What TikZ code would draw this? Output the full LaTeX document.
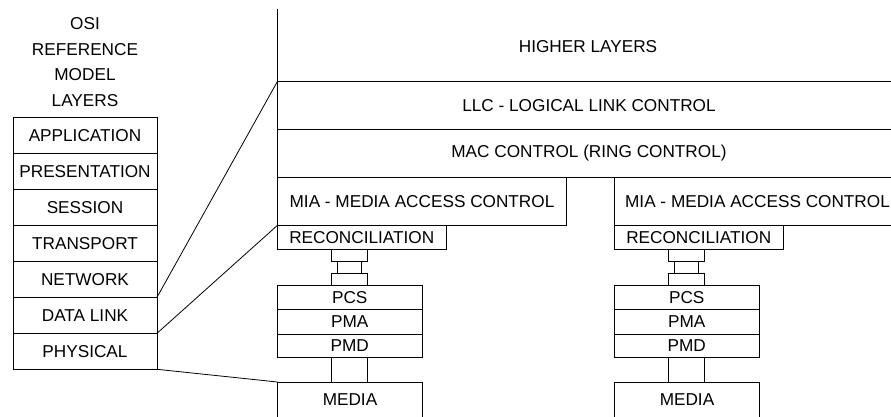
\documentclass[tikz,border=0pt]{standalone}
\usepackage{fontspec}
\setmainfont{Liberation Sans}
\begin{document}
\begin{tikzpicture}[x=1pt,y=-1pt,
  every node/.style={font=\fontsize{17.2}{20}\selectfont},
  lay/.style={draw, line width=0.9pt, inner sep=0pt, outer sep=0pt, anchor=north west},
  link/.style={line width=0.8pt}]
\clip (0,0) rectangle (891,416);
\fill[white] (0,0) rectangle (891,416);
% OSI column
\node[align=center, font=\fontsize{17.2}{25.5}\selectfont] (title) at (85,62) {OSI\\REFERENCE\\MODEL\\LAYERS};
\node[lay, minimum width=144, minimum height=36] (app)  at (13,117.3) {APPLICATION};
\node[lay, minimum width=144, minimum height=36] (pres) at (13,153.3) {PRESENTATION};
\node[lay, minimum width=144, minimum height=36] (sess) at (13,189.3) {SESSION};
\node[lay, minimum width=144, minimum height=36] (trans) at (13,225.3) {TRANSPORT};
\node[lay, minimum width=144, minimum height=36] (net)  at (13,261.3) {NETWORK};
\node[lay, minimum width=144, minimum height=36] (dl)   at (13,297.3) {DATA LINK};
\node[lay, minimum width=144, minimum height=36] (phy)  at (13,333.3) {PHYSICAL};
% upper stack
\coordinate (top) at (277.5,9);
\node (higher) at (588,47) {HIGHER LAYERS};
\node[lay, minimum width=623, minimum height=48] (llc) at (277.5,81.3) {LLC - LOGICAL LINK CONTROL};
\node[lay, minimum width=623, minimum height=48] (mac) at (277.5,129.3) {MAC CONTROL (RING CONTROL)};
\node[lay, minimum width=289, minimum height=48] (miaL) at (277.5,177.3) {MIA - MEDIA ACCESS CONTROL};
\node[lay, minimum width=286, minimum height=48] (miaR) at (614.5,177.3) {MIA - MEDIA ACCESS CONTROL};
\draw[line width=0.9pt] (top) -- (llc.north west);
% left PHY stack
\node[lay, minimum width=168.5, minimum height=24.2] (recL) at (277.5,225.3) {RECONCILIATION};
\node[lay, minimum width=35.6, minimum height=11.7] (cLa) at (331.7,249.5) {};
\node[lay, minimum width=24, minimum height=12.7] (cLb) at (337.7,261.2) {};
\node[lay, minimum width=35.6, minimum height=11.8] (cLc) at (331.7,273.9) {};
\node[lay, minimum width=144.5, minimum height=24.2] (pcsL) at (277.5,285.7) {PCS};
\node[lay, minimum width=144.5, minimum height=24.2] (pmaL) at (277.5,309.9) {PMA};
\node[lay, minimum width=144.5, minimum height=23.8] (pmdL) at (277.5,334.1) {PMD};
\node[lay, minimum width=35.6, minimum height=24.1] (cLd) at (331.7,357.9) {};
\node[lay, minimum width=144.5, minimum height=50] (medL) at (277.5,382) {};
\node at (350,400) (medLt) {MEDIA};
% right PHY stack
\node[lay, minimum width=168.5, minimum height=24.2] (recR) at (614.5,225.3) {RECONCILIATION};
\node[lay, minimum width=35.6, minimum height=11.7] (cRa) at (668.7,249.5) {};
\node[lay, minimum width=24, minimum height=12.7] (cRb) at (674.7,261.2) {};
\node[lay, minimum width=35.6, minimum height=11.8] (cRc) at (668.7,273.9) {};
\node[lay, minimum width=144.5, minimum height=24.2] (pcsR) at (614.5,285.7) {PCS};
\node[lay, minimum width=144.5, minimum height=24.2] (pmaR) at (614.5,309.9) {PMA};
\node[lay, minimum width=144.5, minimum height=23.8] (pmdR) at (614.5,334.1) {PMD};
\node[lay, minimum width=35.6, minimum height=24.1] (cRd) at (668.7,357.9) {};
\node[lay, minimum width=144.5, minimum height=50] (medR) at (614.5,382) {};
\node at (687,400) (medRt) {MEDIA};
% mapping lines
\draw[link] (net.south east) -- (llc.north west);
\draw[link] (dl.south east) -- (recL.north west);
\draw[link] (phy.south east) -- (medL.north west);
\end{tikzpicture}
\end{document}
